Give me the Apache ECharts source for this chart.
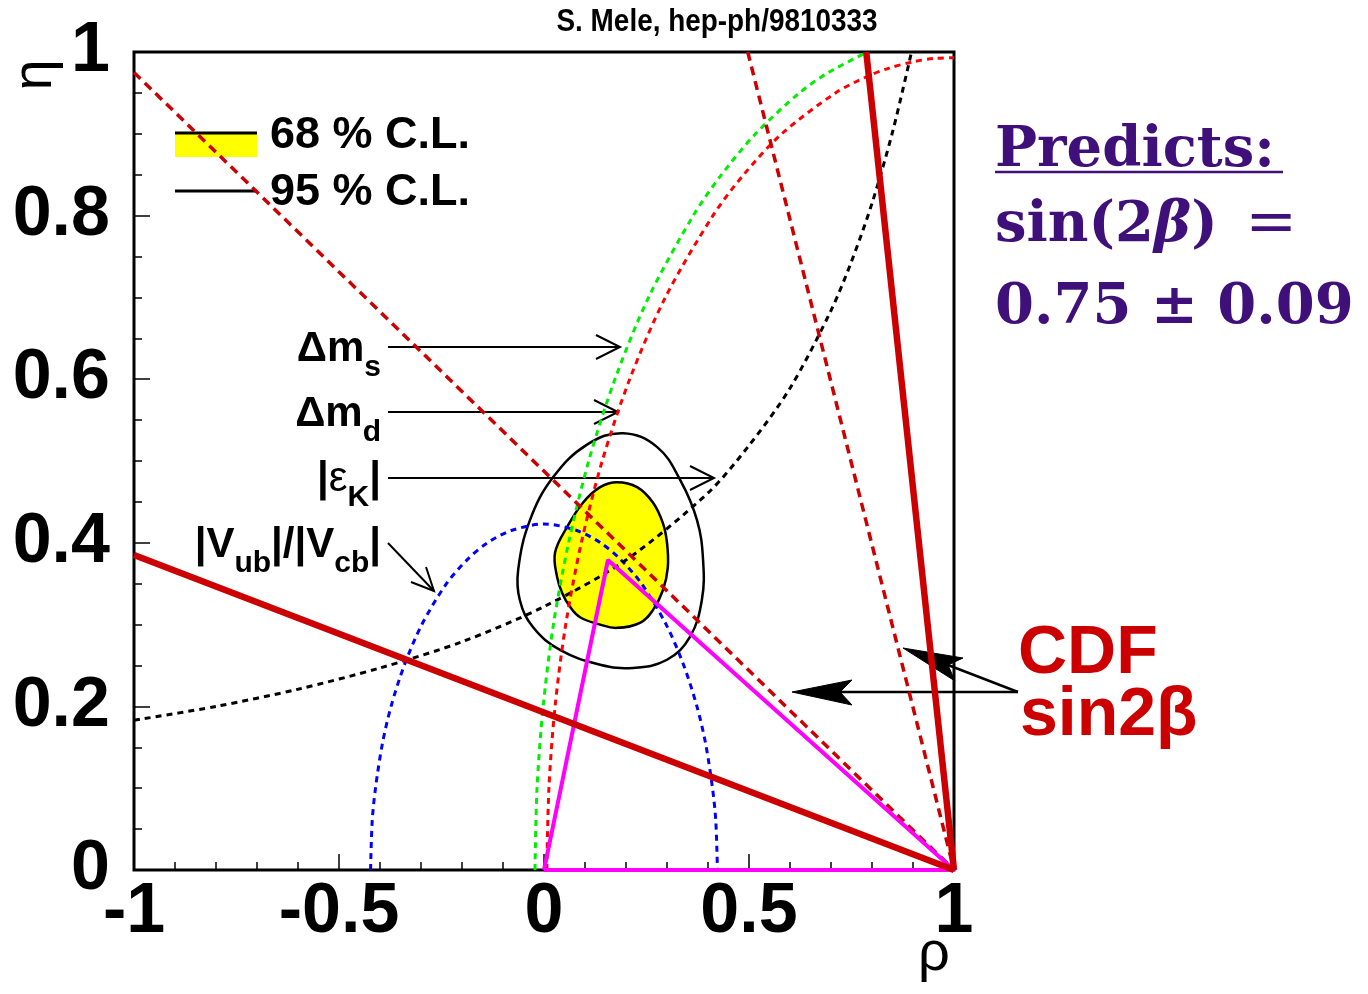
<!DOCTYPE html>
<html>
<head>
<meta charset="utf-8">
<script src="https://cdn.jsdelivr.net/npm/echarts@6/dist/echarts.min.js"></script>
<style>
  html, body { margin: 0; padding: 0; background: #ffffff; }
  #chart { width: 1368px; height: 994px; }
</style>
</head>
<body>
<div id="chart"></div>
<script>
// Unitarity triangle fit in the (rho, eta) plane with the CDF sin2beta measurement

const xTicks = [-1, -0.5, 0, 0.5, 1];
const yTicks = [0, 0.2, 0.4, 0.6, 0.8, 1];

// CDF sin2beta: lower edge (solid) and central value (dashed), both solutions through (1,0)
const cdfLowA = [[-1, 0.385], [1, 0]];
const cdfLowB = [[0.786, 1], [1, 0]];
const cdfCentralA = [[-1, 0.975], [1, 0]];
const cdfCentralB = [[0.497, 1], [1, 0]];

// Delta m_s bound (green) and Delta m_d (red) arcs around (1,0)
const dmsCurve = [[-0.022, 0], [-0.017, 0.1], [-0.002, 0.2], [0.023, 0.3], [0.060, 0.4], [0.109, 0.5],
  [0.173, 0.6], [0.255, 0.7], [0.364, 0.8], [0.433, 0.85], [0.516, 0.9], [0.623, 0.95], [0.694, 0.975], [0.789, 1.0]];
const dmdCurve = [[0.007, 0], [0.012, 0.1], [0.027, 0.2], [0.053, 0.3], [0.091, 0.4], [0.142, 0.5],
  [0.209, 0.6], [0.296, 0.7], [0.412, 0.8], [0.487, 0.85], [0.580, 0.9], [0.711, 0.95], [0.788, 0.97],
  [0.840, 0.98], [0.900, 0.988], [0.950, 0.992], [1.0, 0.993]];

// |epsilon_K| hyperbola (black dotted)
const epsKCurve = [[-1, 0.183], [-0.8, 0.200], [-0.6, 0.221], [-0.4, 0.247], [-0.2, 0.279], [0, 0.322],
  [0.2, 0.379], [0.4, 0.461], [0.5, 0.519], [0.6, 0.589], [0.7, 0.684], [0.75, 0.744], [0.8, 0.815],
  [0.85, 0.902], [0.895, 0.997]];

// |Vub|/|Vcb| circle around the origin (blue dashed)
const vubCurve = [[-0.423, 0], [-0.419, 0.06], [-0.411, 0.1], [-0.394, 0.155], [-0.373, 0.2], [-0.341, 0.25],
  [-0.298, 0.3], [-0.238, 0.35], [-0.186, 0.38], [-0.138, 0.4], [-0.08, 0.415], [0, 0.423], [0.08, 0.415],
  [0.138, 0.4], [0.186, 0.38], [0.238, 0.35], [0.298, 0.3], [0.341, 0.25], [0.373, 0.2], [0.394, 0.155],
  [0.411, 0.1], [0.419, 0.06], [0.423, 0]];

// Confidence level contours of the fit
const cl68 = [[0.178, 0.474], [0.137, 0.468], [0.095, 0.449], [0.056, 0.419], [0.027, 0.388], [0.032, 0.358],
  [0.044, 0.339], [0.063, 0.322], [0.088, 0.309], [0.137, 0.300], [0.178, 0.296], [0.234, 0.302],
  [0.266, 0.318], [0.290, 0.342], [0.302, 0.370], [0.300, 0.400], [0.290, 0.424], [0.266, 0.449], [0.227, 0.468]];
const cl95 = [[0.193, 0.534], [0.105, 0.520], [0.022, 0.480], [-0.034, 0.428], [-0.063, 0.367], [-0.059, 0.330],
  [-0.027, 0.297], [0.039, 0.269], [0.137, 0.251], [0.217, 0.247], [0.300, 0.257], [0.356, 0.285],
  [0.385, 0.330], [0.388, 0.379], [0.373, 0.428], [0.332, 0.477], [0.276, 0.517]];

// Best-fit unitarity triangle
const triangle = [[0, 0], [0.156, 0.379], [1, 0], [0, 0]];

const SANS = '"Liberation Sans", Arial, Helvetica, sans-serif';
const SERIF = '"DejaVu Serif", "Liberation Serif", serif';
const PURPLE = '#40107a';
const CDF_RED = '#cc0000';

function lineSeries(data, color, width, dash, z, smooth) {
  return {
    type: 'line', data, z, smooth: smooth || false, showSymbol: false, symbol: 'none', silent: true,
    animation: false,
    lineStyle: { color, width, type: dash || 'solid', cap: 'butt' }
  };
}

function contourSeries(points, fill, stroke, width, z) {
  return {
    type: 'custom', coordinateSystem: 'cartesian2d', z, silent: true, animation: false,
    data: [[0, 0]],
    renderItem: (params, api) => ({
      type: 'polygon',
      shape: { points: points.map(p => api.coord(p)), smooth: 0.4 },
      style: { fill, stroke, lineWidth: width }
    })
  };
}

function txt(x, y, text, font, fill, align, extra) {
  return Object.assign({
    type: 'text', x, y, silent: true,
    style: { text, font, fill, align: align || 'left', textAlign: align || 'left',
      verticalAlign: 'middle', textVerticalAlign: 'middle' }
  }, extra || {});
}
function seg(points, width) {
  return { type: 'polyline', silent: true, shape: { points },
    style: { stroke: '#000', lineWidth: width || 2, fill: null } };
}
function head(points) {
  return { type: 'polygon', silent: true, shape: { points }, style: { fill: '#000', stroke: '#000', lineWidth: 1 } };
}

const labelRich = {
  m: { fontFamily: SANS, fontWeight: 'bold', fontSize: 42, lineHeight: 42, verticalAlign: 'top', fill: '#000' },
  e: { fontFamily: SANS, fontWeight: 'normal', fontSize: 42, lineHeight: 42, verticalAlign: 'top', fill: '#000' },
  s: { fontFamily: SANS, fontWeight: 'bold', fontSize: 30, lineHeight: 30, padding: [25, 0, 0, 0], verticalAlign: 'top', fill: '#000' }
};
function richLabel(x, yTop, text) {
  return { type: 'text', x, y: yTop, silent: true,
    style: { text, rich: labelRich, align: 'right', textAlign: 'right', verticalAlign: 'top', textVerticalAlign: 'top',
      font: 'bold 42px ' + SANS, fill: '#000' } };
}

const chart = echarts.init(document.getElementById('chart'), null, { renderer: 'canvas' });

const option = {
  backgroundColor: '#ffffff',
  animation: false,
  grid: { left: 134, right: 414, top: 52, bottom: 124, show: true, borderColor: '#000', borderWidth: 3,
    backgroundColor: 'rgba(0,0,0,0)' },
  xAxis: {
    type: 'value', min: xTicks[0], max: xTicks[xTicks.length - 1], interval: 0.5,
    axisLine: { show: false, onZero: false },
    splitLine: { show: false },
    axisTick: { show: true, inside: true, length: 16, lineStyle: { color: '#000', width: 1.5 } },
    minorTick: { show: true, splitNumber: 5, length: 8, lineStyle: { color: '#000', width: 1.5 } },
    axisLabel: { color: '#000', fontSize: 70, fontWeight: 'bold', fontFamily: SANS, margin: 8,
      formatter: v => String(v) }
  },
  yAxis: {
    type: 'value', min: yTicks[0], max: yTicks[yTicks.length - 1], interval: 0.2,
    axisLine: { show: false, onZero: false },
    splitLine: { show: false },
    axisTick: { show: true, inside: true, length: 16, lineStyle: { color: '#000', width: 1.5 } },
    minorTick: { show: true, splitNumber: 4, length: 8, lineStyle: { color: '#000', width: 1.5 } },
    axisLabel: { color: '#000', fontSize: 70, fontWeight: 'bold', fontFamily: SANS, margin: 24,
      formatter: v => String(Math.round(v * 10) / 10) }
  },
  series: [
    contourSeries(cl68, '#ffff00', '#000', 2.5, 1),
    contourSeries(cl95, null, '#000', 2.5, 2),
    lineSeries(vubCurve, '#0000ff', 3, [6, 5], 3, 0.3),
    lineSeries(epsKCurve, '#000000', 3, [6, 5], 3, 0.3),
    lineSeries(dmsCurve, '#00ee00', 3, [6, 5], 3, 0.3),
    lineSeries(dmdCurve, '#ff0000', 3, [6, 5], 3, 0.3),
    lineSeries(cdfCentralA, CDF_RED, 3.5, [9, 6], 3),
    lineSeries(cdfCentralB, CDF_RED, 3.5, [9, 6], 3),
    lineSeries(triangle, '#ff00ff', 4, 'solid', 4),
    lineSeries(cdfLowA, CDF_RED, 6.5, 'solid', 5),
    lineSeries(cdfLowB, CDF_RED, 6.5, 'solid', 5)
  ],
  graphic: { elements: [
    // header
    txt(717, 22, 'S. Mele, hep-ph/9810333', 'bold 31px ' + SANS, '#000', 'center', { scaleX: 0.9 }),
    // axis titles
    txt(934, 955, 'ρ', 'normal 56px ' + SANS, '#000', 'center'),
    txt(36, 75, 'η', 'normal 56px ' + SANS, '#000', 'center', { rotation: Math.PI / 2 }),
    // legend
    { type: 'rect', silent: true, shape: { x: 175, y: 133, width: 82, height: 24 }, style: { fill: '#ffff00' } },
    seg([[175, 133], [257, 133]], 3),
    txt(270, 136, '68 % C.L.', 'bold 45px ' + SANS, '#000', 'left'),
    seg([[175, 191], [257, 191]], 3),
    txt(270, 193, '95 % C.L.', 'bold 45px ' + SANS, '#000', 'left'),
    // constraint labels and arrows
    richLabel(381, 328, '{m|Δm}{s|s}'),
    seg([[388, 347], [620, 347]]), seg([[596, 335], [620, 347], [596, 359]]),
    richLabel(381, 393, '{m|Δm}{s|d}'),
    seg([[388, 412], [618, 412]]), seg([[594, 400], [618, 412], [594, 424]]),
    richLabel(381, 458, '{m||}{e|ε}{s|K}{m||}'),
    seg([[388, 478], [714, 478]]), seg([[690, 466], [714, 478], [690, 490]]),
    richLabel(381, 524, '{m||V}{s|ub}{m||/|V}{s|cb}{m||}'),
    seg([[388, 543], [434, 591]]), seg([[426, 567], [434, 591], [411, 582]]),
    // CDF annotation
    txt(1018, 654, 'CDF', 'bold 68px ' + SANS, CDF_RED, 'left'),
    txt(1020, 716, 'sin2β', 'bold 68px ' + SANS, CDF_RED, 'left'),
    seg([[1018, 692], [840, 692]], 2.5),
    head([[792, 692], [852, 680], [840, 692], [852, 705]]),
    seg([[1018, 692], [948, 665]], 2.5),
    head([[903, 648], [963, 658], [948, 665], [955, 681]]),
    // prediction
    txt(995, 151, 'Predicts:', 'bold 56px ' + SERIF, PURPLE, 'left'),
    { type: 'line', silent: true, shape: { x1: 995, y1: 172, x2: 1283, y2: 172 }, style: { stroke: PURPLE, lineWidth: 2.5 } },
    { type: 'text', x: 995, y: 226, silent: true,
      style: { text: '{a|sin(2}{b|β}{a|) }{c|=}', align: 'left', textAlign: 'left', verticalAlign: 'middle', textVerticalAlign: 'middle',
        font: 'bold 56px ' + SERIF, fill: PURPLE,
        rich: { a: { fontFamily: SERIF, fontWeight: 'bold', fontSize: 56, fill: PURPLE },
                b: { fontFamily: SERIF, fontWeight: 'bold', fontStyle: 'italic', fontSize: 56, fill: PURPLE },
                c: { fontFamily: SERIF, fontWeight: 'normal', fontSize: 62, fill: PURPLE, padding: [0, 0, 0, 8] } } } },
    txt(995, 308, '0.75 ± 0.09', 'bold 56px ' + SERIF, PURPLE, 'left')
  ] }
};

chart.setOption(option);
</script>
</body>
</html>
